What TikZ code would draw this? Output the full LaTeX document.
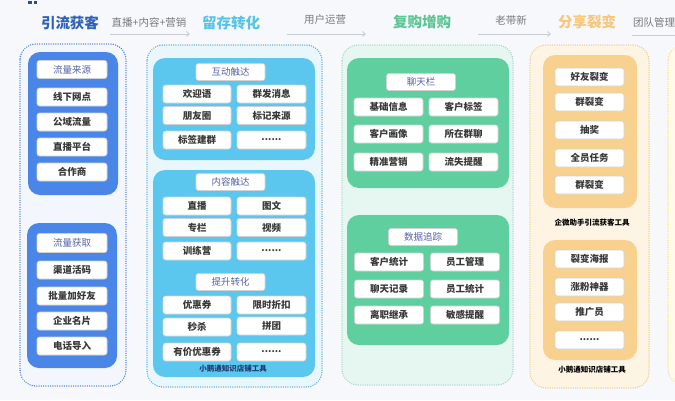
\documentclass[tikz,border=0pt]{standalone}
\usepackage{fontspec}
\setmainfont{Noto Sans CJK SC}
\usetikzlibrary{arrows.meta}
\definecolor{bgc}{HTML}{F6F8FB}
\definecolor{blueA}{HTML}{4A86E8}
\definecolor{blueO}{HTML}{4A7FD4}
\definecolor{blueF}{HTML}{F3F7FD}
\definecolor{cyanA}{HTML}{5BC7EE}
\definecolor{cyanO}{HTML}{58ABDB}
\definecolor{cyanF}{HTML}{E9F6FC}
\definecolor{greenA}{HTML}{60CFA0}
\definecolor{greenO}{HTML}{A9D6C6}
\definecolor{greenF}{HTML}{E5F7F0}
\definecolor{orangeA}{HTML}{F8D18E}
\definecolor{orangeO}{HTML}{F0CC88}
\definecolor{orangeF}{HTML}{FDF4E4}
\definecolor{yellowO}{HTML}{F4DE8E}
\definecolor{yellowF}{HTML}{FFFAEA}
\definecolor{hdrtext}{HTML}{5563A8}
\definecolor{navy}{HTML}{1F3A6E}
\definecolor{t1}{HTML}{2F62B8}
\definecolor{t2}{HTML}{58C3E8}
\definecolor{t3}{HTML}{5CC594}
\definecolor{t4}{HTML}{F6C77C}
\definecolor{graytext}{HTML}{7A7A7A}
\definecolor{lineg}{HTML}{C8CCD2}
\tikzset{
  outerbox/.style={line width=1.4pt, dash pattern=on 0.1pt off 2.2pt, line cap=round, rounded corners=16pt},
  grpbox/.style={rounded corners=12pt},
  itm/.style={rectangle, rounded corners=2.5pt, fill=white, draw=black!18, line width=0.6pt,
    minimum height=18pt, minimum width=69pt, inner sep=0pt,
    font=\fontsize{9.5}{10}\selectfont\bfseries, text=black!78},
  hdr/.style={itm, text=hdrtext, minimum height=17pt, font=\fontsize{9.5}{10}\selectfont},
  stage/.style={font=\fontsize{14.5}{15}\selectfont\bfseries, inner sep=0pt},
  sublab/.style={font=\fontsize{10.5}{11}\selectfont, text=graytext, inner sep=0pt},
  foot/.style={font=\fontsize{7.5}{8}\selectfont\bfseries, inner sep=0pt},
  flow/.style={draw=lineg, line width=0.8pt, -{Straight Barb[length=3pt,width=5pt]}},
}
\begin{document}
\begin{tikzpicture}[x=1pt,y=-1pt]
\useasboundingbox (0,0) rectangle (675,400);
\fill[bgc] (0,0) rectangle (675,400);
% tiny marks
\fill[t1!80!black] (28,1) rectangle (32,4);
\fill[t1!80!black] (34,1) rectangle (37,4);

% ---------- header ----------
\node[stage, text=t1] (s1) at (70,23) {引流获客};
\node[sublab] (l1) at (149,22) {直播+内容+营销};
\node[stage, text=t2] (s2) at (231,23) {留存转化};
\node[sublab] (l2) at (325,20) {用户运营};
\node[stage, text=t3] (s3) at (422,22) {复购增购};
\node[sublab] (l3) at (511,20) {老带新};
\node[stage, text=t4] (s4) at (587,22) {分享裂变};
\node[sublab, anchor=west] (l4) at (633,22) {团队管理};
\coordinate (a1s) at (110,34); \coordinate (a1e) at (190,34);
\coordinate (a2s) at (287,34); \coordinate (a2e) at (366,34);
\coordinate (a3s) at (478,34); \coordinate (a3e) at (551,34);
\coordinate (a4s) at (632,35); \coordinate (a4e) at (680,35);
\draw[flow] (a1s) -- (a1e);
\draw[flow] (a2s) -- (a2e);
\draw[flow] (a3s) -- (a3e);
\draw[draw=lineg, line width=0.8pt] (a4s) -- (a4e);

% ---------- column 1 ----------
\draw[outerbox, draw=blueO, fill=blueF] (20,44) rectangle (126,386);
\fill[blueA, grpbox] (28,52) rectangle (118,195);
\node[hdr, minimum width=70pt, minimum height=18pt] (c1h1) at (72,69.5) {流量来源};
\node[itm, minimum width=70pt] (c1a) at (72,97) {线下网点};
\node[itm, minimum width=70pt] (c1b) at (72,122) {公域流量};
\node[itm, minimum width=70pt] (c1c) at (72,147) {直播平台};
\node[itm, minimum width=70pt] (c1d) at (72,172) {合作商};
\fill[blueA, grpbox] (27,223) rectangle (117,368);
\node[hdr, minimum width=70pt, minimum height=19pt] (c1h2) at (72,243) {流量获取};
\node[itm, minimum width=70pt] (c1e) at (72,270) {渠道活码};
\node[itm, minimum width=70pt] (c1f) at (72,296) {批量加好友};
\node[itm, minimum width=70pt] (c1g) at (72,321) {企业名片};
\node[itm, minimum width=70pt] (c1h) at (72,346) {电话导入};

% ---------- column 2 ----------
\draw[outerbox, draw=cyanO, fill=cyanF] (147,45) rectangle (322,387);
\fill[cyanA, grpbox] (153,58) rectangle (315,160);
\node[hdr] (c2h1) at (230.5,72) {互动触达};
\node[itm, minimum width=68pt] (c2a) at (197,94) {欢迎语};
\node[itm] (c2b) at (271.5,94) {群发消息};
\node[itm, minimum width=68pt] (c2c) at (197,115.5) {朋友圈};
\node[itm] (c2d) at (271.5,115.5) {标记来源};
\node[itm, minimum width=68pt] (c2e) at (197,140) {标签建群};
\node[itm] (c2f) at (271.5,140) {......};
\fill[cyanA, grpbox] (153,170) rectangle (315,377);
\node[hdr] (c2h2) at (230.5,182) {内容触达};
\node[itm, minimum width=68pt] (c2g) at (197,206) {直播};
\node[itm] (c2h) at (271.5,206) {图文};
\node[itm, minimum width=68pt] (c2i) at (197,227.5) {专栏};
\node[itm] (c2j) at (271.5,227.5) {视频};
\node[itm, minimum width=68pt] (c2k) at (197,251) {训练营};
\node[itm] (c2l) at (271.5,251) {......};
\node[hdr] (c2h3) at (230.5,282) {提升转化};
\node[itm, minimum width=68pt] (c2m) at (197,305) {优惠券};
\node[itm] (c2n) at (271.5,305) {限时折扣};
\node[itm, minimum width=68pt] (c2o) at (197,327) {秒杀};
\node[itm] (c2p) at (271.5,326) {拼团};
\node[itm, minimum width=68pt] (c2q) at (197,352) {有价优惠券};
\node[itm] (c2r) at (271.5,352) {......};
\node[foot, text=navy] (c2ft) at (233,368.5) {小鹅通知识店铺工具};

% ---------- column 3 ----------
\draw[outerbox, draw=greenO, fill=greenF] (342,45) rectangle (513,385);
\fill[greenA, grpbox] (347,58) rectangle (509,188);
\node[hdr] (c3h1) at (421,82) {聊天栏};
\node[itm] (c3a) at (388.5,107) {基础信息};
\node[itm] (c3b) at (463.5,107) {客户标签};
\node[itm] (c3c) at (388.5,134) {客户画像};
\node[itm] (c3d) at (463.5,134) {所在群聊};
\node[itm] (c3e) at (388.5,162) {精准营销};
\node[itm] (c3f) at (463.5,162) {流失提醒};
\fill[greenA, grpbox] (347,215) rectangle (509,345);
\node[hdr] (c3h2) at (423,237) {数据追踪};
\node[itm] (c3g) at (389,262) {客户统计};
\node[itm] (c3h) at (465,262) {员工管理};
\node[itm] (c3i) at (389,289) {聊天记录};
\node[itm] (c3j) at (465,289) {员工统计};
\node[itm] (c3k) at (389,315) {离职继承};
\node[itm] (c3l) at (465,315) {敏感提醒};

% ---------- column 4 ----------
\draw[outerbox, draw=orangeO, fill=orangeF] (530,45) rectangle (649,388);
\fill[orangeA, grpbox] (543,55) rectangle (637,208);
\node[itm] (c4a) at (589.5,77) {好友裂变};
\node[itm] (c4b) at (589.5,102) {群裂变};
\node[itm] (c4c) at (589.5,130) {抽奖};
\node[itm] (c4d) at (589.5,158) {全员任务};
\node[itm] (c4e) at (589.5,185) {群裂变};
\node[foot, text=black] (c4ft1) at (592,223) {企微助手引流获客工具};
\fill[orangeA, grpbox] (543,240) rectangle (637,360);
\node[itm] (c4f) at (589.5,259) {裂变海报};
\node[itm] (c4g) at (589.5,287) {涨粉神器};
\node[itm] (c4h) at (589.5,312) {推广员};
\node[itm] (c4i) at (589.5,340) {......};
\node[foot, text=black] (c4ft2) at (592,370) {小鹅通知识店铺工具};

% ---------- column 5 (cut off) ----------
\draw[outerbox, draw=yellowO, fill=yellowF] (668,45) rectangle (720,385);
\end{tikzpicture}
\end{document}
